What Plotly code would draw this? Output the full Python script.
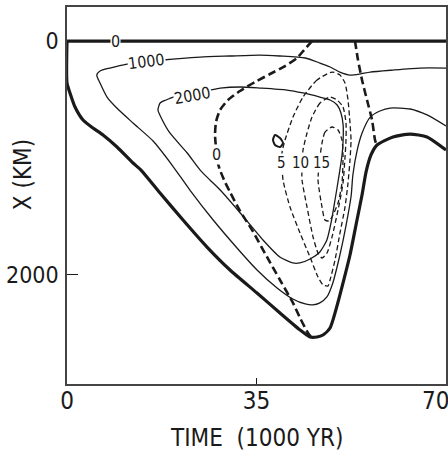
import plotly.graph_objects as go

# ---- data (time in 1000 yr, X in km) ----
# ice-sheet margin / "0" contour (thick solid)
margin_t = [0, 0, 0.55, 1.48, 2.96, 4.80, 6.65, 9.24, 12.19, 13.67, 17.18, 21.43, 25.86, 30.11,
            35.09, 39.34, 43.04, 44.88, 46.18, 47.28, 48.58, 50.06, 50.98, 52.27, 53.56, 54.49,
            55.23, 56.15, 57.26, 60.21, 63.35, 66.49, 70.0]
margin_x = [0, 359, 444, 564, 675, 744, 803, 906, 1043, 1103, 1299, 1530, 1761, 1957,
            2154, 2325, 2470, 2530, 2530, 2513, 2453, 2231, 2068, 1829, 1530, 1316,
            1120, 974, 889, 820, 795, 820, 932]
surface_t = [0, 70]
surface_x = [0, 0]

# 1000 contour (thin solid)
c1000_t = [70, 65.2, 60.2, 56.0, 54.1, 52.3, 50.4, 48.6, 46.7, 44.0, 39.3, 35.6, 30.1, 24.6, 17.7,
           11.1, 7.9, 6.1, 5.5, 6.1, 7.4, 9.2, 12.2, 15.9, 19.4, 22.7, 27.0, 31.4, 35.1, 38.8,
           41.7, 44.0, 45.4, 46.7, 48.0, 49.1, 50.1, 51.0, 51.9, 52.5, 52.8, 53.6, 54.5, 56.0,
           57.8, 59.7, 63.4, 66.5, 70]
c1000_x = [231, 231, 248, 265, 282, 291, 265, 222, 188, 145, 128, 120, 128, 137, 162,
           197, 231, 256, 291, 359, 479, 573, 701, 855, 1060, 1274, 1530, 1769, 1957, 2111,
           2205, 2248, 2256, 2239, 2188, 2068, 1889, 1701, 1487, 1316, 1145, 932, 786, 650,
           598, 573, 581, 632, 726]

# 2000 contour (thin solid, closed)
c2000_t = [26.4, 28.3, 32.0, 35.6, 40.6, 43.6, 46.7, 48.6, 49.9, 50.6, 51.0, 51.0, 50.8, 50.2,
           49.5, 48.8, 48.0, 46.7, 44.9, 43.0, 41.7, 39.3, 36.2, 32.0, 28.3, 26.4, 24.6, 22.2,
           19.0, 17.6, 16.8, 17.2, 18.3, 19.6, 22.7, 26.4]
c2000_x = [419, 402, 393, 402, 419, 444, 479, 504, 547, 615, 718, 846, 974, 1162,
           1359, 1547, 1701, 1803, 1863, 1897, 1897, 1846, 1701, 1470, 1274, 1188, 1103, 957,
           786, 675, 590, 530, 504, 479, 453, 419]

# thick dashed "0" lines
d0_t = [45.25, 43.78, 42.48, 40.27, 37.50, 34.72, 31.95, 29.74, 28.26, 27.52, 27.34, 27.52,
        27.71, 28.26, 29.18, 30.11, 31.95, 34.17, 36.94, 39.34, 41.74, 43.04, 44.51, 45.25]
d0_x = [0, 77, 145, 214, 282, 350, 427, 504, 590, 692, 803, 915,
        1017, 1103, 1205, 1291, 1453, 1615, 1846, 2043, 2239, 2367, 2496, 2538]
dR_t = [53.19, 53.75, 54.49, 55.41, 56.34, 56.89, 57.26]
dR_x = [0, 162, 333, 504, 675, 846, 897]

# thin dashed contours 5, 10, 15
d5_t = [48.95, 46.18, 43.59, 41.74, 40.27, 39.71, 39.90, 41.19, 43.04, 44.88, 46.36, 47.28, 48.21,
        48.58, 49.50, 50.42, 51.35, 51.90, 52.27, 52.46, 52.27, 51.90, 51.35, 50.42, 48.95]
d5_x = [265, 333, 479, 650, 846, 957, 1188, 1419, 1641, 1846, 2017, 2085, 2094,
        2043, 1872, 1641, 1419, 1214, 1017, 846, 701, 504, 359, 291, 265]
d10_t = [48.58, 46.73, 45.25, 44.33, 43.59, 43.41, 43.41, 44.33, 45.44, 46.36, 47.10, 48.02,
         48.95, 50.06, 50.98, 51.35, 51.53, 51.53, 50.98, 49.87, 48.58]
d10_x = [479, 530, 650, 786, 932, 1060, 1188, 1419, 1675, 1812, 1855, 1812,
         1675, 1444, 1214, 991, 846, 701, 564, 504, 479]
d15_t = [48.95, 47.65, 47.10, 46.73, 46.36, 47.10, 47.65, 48.39, 48.95, 50.06, 50.79, 50.98,
         50.79, 50.06, 48.95]
d15_x = [735, 778, 872, 991, 1188, 1419, 1530, 1538, 1504, 1385, 1214, 991,
         846, 761, 735]

# tiny closed loop
loop_t = [38.42, 39.34, 39.90, 39.34, 38.42, 38.05, 38.42]
loop_x = [803, 829, 872, 906, 889, 846, 803]

# contour labels
lab_text = ["0", "1000", "2000", "0", "5", "10", "15"]
lab_t = [8.9, 14.6, 23.2, 27.7, 39.6, 43.2, 47.0]
lab_x = [0, 171, 462, 974, 1043, 1043, 1043]
lab_angle = [0, -7, -10, 0, 0, 0, 0]
lab_size = [16, 16, 16, 16, 15, 15, 15]

# axes
x_ticks = [0, 35, 70]
x_ticktext = ["0", "35", "70\u00a0\u00a0\u00a0"]
y_ticks = [0, 2000]
y_ticktext = ["0", "2000"]
x_title = "TIME  (1000 YR)"
y_title = "X (KM)"

FONT = "DejaVu Sans Condensed, Liberation Sans Narrow, DejaVu Sans, sans-serif"
INK = "#1a1a1a"

fig = go.Figure()

def add_line(t, x, width, dash="solid"):
    fig.add_trace(go.Scatter(x=t, y=x, mode="lines", hoverinfo="skip",
                             line=dict(color=INK, width=width, dash=dash,
                                       shape="spline", smoothing=0.6)))

add_line(surface_t, surface_x, 3.2)
add_line(margin_t, margin_x, 3.2)
add_line(c1000_t, c1000_x, 1.3)
add_line(c2000_t, c2000_x, 1.3)
add_line(d0_t, d0_x, 2.6, "8px,4px")
add_line(dR_t, dR_x, 2.6, "8px,4px")
add_line(d5_t, d5_x, 1.3, "5px,3px")
add_line(d10_t, d10_x, 1.3, "5px,3px")
add_line(d15_t, d15_x, 1.3, "5px,3px")
add_line(loop_t, loop_x, 2.0)

for txt, t, x, a, s in zip(lab_text, lab_t, lab_x, lab_angle, lab_size):
    fig.add_annotation(x=t, y=x, text=txt, showarrow=False, textangle=a,
                       font=dict(family=FONT, size=s, color=INK),
                       bgcolor="white", borderpad=0)

fig.add_annotation(xref="paper", yref="paper", x=0.499, y=-0.143, text=x_title,
                   xanchor="center", yanchor="middle",
                   showarrow=False, font=dict(family=FONT, size=24, color=INK))
fig.add_annotation(xref="paper", yref="paper", x=-0.116, y=0.554, text=y_title,
                   xanchor="center", yanchor="middle",
                   textangle=-90, showarrow=False, font=dict(family=FONT, size=24, color=INK))

fig.update_layout(
    width=448, height=454, autosize=False,
    margin=dict(l=67, r=2, t=7, b=70),
    paper_bgcolor="white", plot_bgcolor="white",
    showlegend=False, hovermode=False,
    xaxis=dict(range=[0, 70], tickvals=x_ticks, ticktext=x_ticktext,
               automargin=False,
               ticks="inside", ticklen=6, tickwidth=1.3, tickcolor=INK,
               showline=True, linecolor="#444", linewidth=1.5, mirror=True,
               showgrid=False, zeroline=False, ticklabelstandoff=-6,
               ticklabeloverflow="allow",
               tickfont=dict(family=FONT, size=24, color=INK)),
    yaxis=dict(range=[2932, -291], tickvals=y_ticks, ticktext=y_ticktext,
               automargin=False,
               ticks="inside", ticklen=11, tickwidth=1.3, tickcolor=INK,
               showline=True, linecolor="#444", linewidth=1.5, mirror=True,
               showgrid=False, zeroline=False, ticklabelstandoff=2,
               ticklabeloverflow="allow",
               tickfont=dict(family=FONT, size=23, color=INK)),
)

post = ("document.documentElement.style.overflow='hidden';"
        "document.body.style.margin='0px';document.body.style.overflow='hidden';")

fig.write_html("out.html", config={"displayModeBar": False, "responsive": False},
               post_script=post)
